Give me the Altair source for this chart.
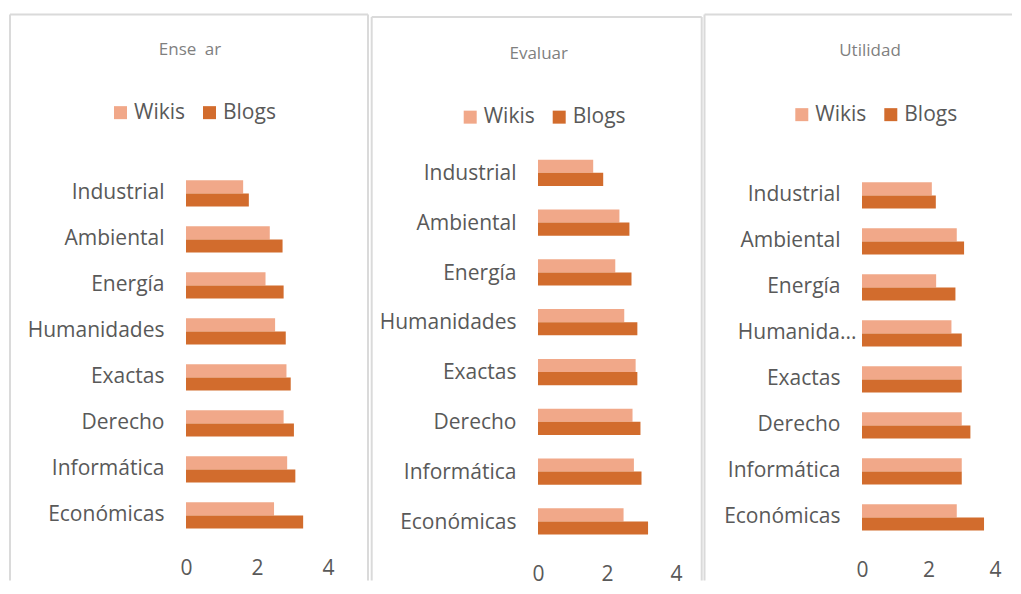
import altair as alt
import pandas as pd

cats = ["Industrial", "Ambiental", "Energía", "Humanidades", "Exactas",
        "Derecho", "Informática", "Económicas"]
series = ["Wikis", "Blogs"]
titles = ["Ense\u2002ar", "Evaluar", "Utilidad"]

ensenar_wikis = [1.61, 2.36, 2.24, 2.51, 2.83, 2.75, 2.85, 2.48]
ensenar_blogs = [1.77, 2.72, 2.75, 2.81, 2.95, 3.04, 3.08, 3.30]
evaluar_wikis = [1.60, 2.36, 2.24, 2.50, 2.83, 2.74, 2.78, 2.48]
evaluar_blogs = [1.89, 2.65, 2.71, 2.88, 2.88, 2.97, 3.00, 3.19]
utilidad_wikis = [2.10, 2.85, 2.23, 2.69, 3.00, 3.00, 3.00, 2.85]
utilidad_blogs = [2.22, 3.07, 2.81, 3.00, 3.00, 3.26, 3.00, 3.67]

x_ticks = [0, 2, 4]
colors = ["#F1A889", "#D26C2D"]

FONT = "Open Sans"
TXT = "#595959"
BORDER = "#dadada"

Y0 = 148.6  # common page y of the plot-area origin (panels align on it)

# page-pixel layout for each panel: plot=(x0, band_top, width, band_bottom)
geos = [
    dict(plot=(186, 170, 142, 538), box=(10, 368, 14), bounds=(9, 369.5),
         title=(190, 49.5), legend=(114, 112.5), truncate=False, xpad=19),
    dict(plot=(537.3, 148.6, 138, 547), box=(371, 701, 16.5), bounds=(369.5, 701.5),
         title=(538, 53.5), legend=(463, 117), truncate=False, xpad=16),
    dict(plot=(860, 172, 133, 540), box=(702.5, None, 14), bounds=(701.5, 1010),
         title=(868, 51), legend=(793.3, 114.5), truncate=True, xpad=19),
]

BOTTOM = 580
TOP_ANCHOR = 13

one = pd.DataFrame({"k": [0]})


def panel(title, wikis, blogs, g):
    px, btop, w, bbot = g["plot"]
    py = Y0
    h = bbot - py
    df = pd.DataFrame({
        "cat": cats * 2,
        "serie": ["Wikis"] * len(cats) + ["Blogs"] * len(cats),
        "val": wikis + blogs,
    })
    yaxis_kw = dict(title=None, domain=False, ticks=False, tickSize=0,
                    labelPadding=22, labelFontSize=21, labelFont=FONT,
                    labelColor=TXT, labelLimit=300)
    if g["truncate"]:
        yaxis_kw["labelExpr"] = ("datum.value == 'Humanidades' ? 'Humanida...' "
                                 ": datum.label")
        yaxis_kw["labelPadding"] = {
            "condition": {"test": "datum.value == 'Humanidades'", "value": 6},
            "value": 22,
        }
    bars = alt.Chart(df).mark_bar().encode(
        x=alt.X("val:Q",
                scale=alt.Scale(domain=[0, 4], nice=False, zero=True),
                axis=alt.Axis(values=x_ticks, title=None, grid=False, domain=False,
                              ticks=False, tickSize=0, labelPadding=g["xpad"],
                              labelFontSize=21, labelFont=FONT, labelColor=TXT,
                              labelFlush=False, format="d")),
        y=alt.Y("cat:N", sort=cats,
                scale=alt.Scale(paddingInner=0.43, paddingOuter=0.215,
                                range=[btop - py, bbot - py]),
                axis=alt.Axis(**yaxis_kw)),
        yOffset=alt.YOffset("serie:N", sort=series),
        color=alt.Color("serie:N", sort=series,
                        scale=alt.Scale(domain=series, range=colors),
                        legend=alt.Legend(title=None, orient="none",
                                          direction="horizontal",
                                          legendX=g["legend"][0] - px - 4,
                                          legendY=g["legend"][1] - py - 11,
                                          symbolType="square", symbolSize=169,
                                          symbolStrokeWidth=0,
                                          labelFontSize=21, labelFont=FONT,
                                          labelColor=TXT, labelOffset=3,
                                          columnPadding=13, padding=0)),
    )

    bl, br, bt = g["box"]
    layers = []
    anchor = alt.Chart(one).mark_rule(strokeOpacity=0, strokeWidth=0).encode(
        x=alt.value(g["bounds"][0] - px), x2=alt.value(g["bounds"][1] - px),
        y=alt.value(TOP_ANCHOR - py))
    layers.append(anchor)
    left = alt.Chart(one).mark_rule(color=BORDER, strokeWidth=2).encode(
        x=alt.value(bl - px), y=alt.value(bt - py), y2=alt.value(BOTTOM - py))
    layers.append(left)
    top_right = (br if br is not None else g["bounds"][1]) - px
    top = alt.Chart(one).mark_rule(color=BORDER, strokeWidth=2).encode(
        x=alt.value(bl - px), x2=alt.value(top_right), y=alt.value(bt - py))
    layers.append(top)
    if br is not None:
        right = alt.Chart(one).mark_rule(color=BORDER, strokeWidth=2).encode(
            x=alt.value(br - px), y=alt.value(bt - py), y2=alt.value(BOTTOM - py))
        layers.append(right)
    layers.append(bars)
    ttl = alt.Chart(one).mark_text(text=title, font=FONT, fontSize=17,
                                   color="#7f7f7f", align="center",
                                   baseline="middle").encode(
        x=alt.value(g["title"][0] - px), y=alt.value(g["title"][1] - py))
    layers.append(ttl)
    return alt.layer(*layers).properties(width=w, height=h)


p1 = panel(titles[0], ensenar_wikis, ensenar_blogs, geos[0])
p2 = panel(titles[1], evaluar_wikis, evaluar_blogs, geos[1])
p3 = panel(titles[2], utilidad_wikis, utilidad_blogs, geos[2])

chart = (
    alt.hconcat(p1, p2, p3, spacing=0)
    .resolve_scale(color="independent", x="independent", y="independent")
    .resolve_legend(color="independent")
    .properties(padding={"left": 1, "top": 5, "right": 0, "bottom": 0})
    .configure_view(stroke=None)
)

chart.save("out.html", embed_options={"renderer": "svg", "actions": False})
